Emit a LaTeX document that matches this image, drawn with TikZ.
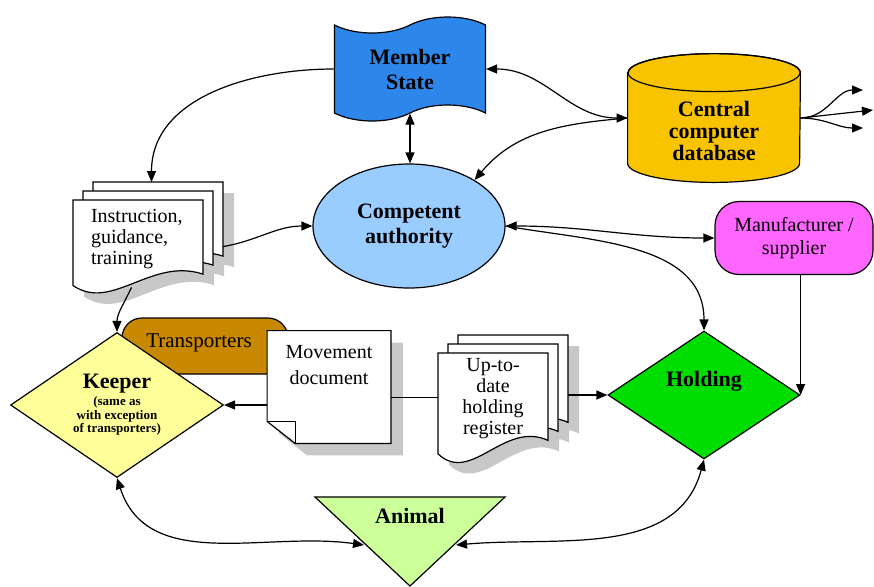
\documentclass[tikz,border=0pt]{standalone}
\usepackage{fontspec}
\setmainfont{Liberation Serif}
\usepackage{tikz}
\usetikzlibrary{arrows.meta}
\usetikzlibrary{positioning, shapes.geometric, shapes.symbols, shapes.misc}
\definecolor{msblue}{RGB}{45,135,235}
\definecolor{dbgold}{RGB}{248,196,0}
\definecolor{cablue}{RGB}{153,204,255}
\definecolor{mfrpink}{RGB}{255,102,255}
\definecolor{holdgreen}{RGB}{0,221,0}
\definecolor{keepyellow}{RGB}{255,255,153}
\definecolor{transbrown}{RGB}{200,136,0}
\definecolor{animalgreen}{RGB}{204,255,153}
\definecolor{shadowgray}{RGB}{200,200,200}
\tikzset{
flow/.style = { -{Triangle[length = 5.5pt, width = 4.5pt]}, line width = 0.6pt },
twoway/.style = { {Triangle[length = 5.5pt, width = 4.5pt]}-{Triangle[length = 5.5pt, width = 4.5pt]}, line width = 0.6pt },
plain text/.style = { font = \fontsize{10}{10.5}\selectfont, inner sep = 0pt },
bold text/.style = { font = \bfseries\fontsize{11}{12.5}\selectfont, align = center, inner sep = 0pt },
box line/.style = { draw = black, line width = 0.6pt },
}
\tikzset{
pics/doc stack/.style n args={4}{
        code = {
        \foreach \s in {20, 10, 0} {
            \path[fill = shadowgray, shift = {({\s+11}, {-0.9*\s+11})}] (0,0) -- (#1,0) -- (#1,{0.78*#2}) .. controls ({0.6*#1},{0.6*#2}) and ({0.3*#1},{1.18*#2}) .. (0,{0.9*#2}) -- cycle;
        }
        \foreach \s in {20, 10, 0} {
            \path[box line, fill = white, shift = {(\s, {-0.9*\s})}] (0,0) -- (#1,0) -- (#1,{0.78*#2}) .. controls ({0.6*#1},{0.6*#2}) and ({0.3*#1},{1.18*#2}) .. (0,{0.9*#2}) -- cycle;
        }
        \node[plain text, #3] (-page) at ({0.5*#1}, {0.41*#2}) {#4};
        \coordinate (-top) at ({0.45*#1+20}, -18);
        \coordinate (-right) at ({#1+20}, {0.68*#2-18});
        \coordinate (-left) at (0, {0.4*#2});
        \coordinate (-bottom) at ({0.45*#1}, {0.92*#2});
        }
    }
}
\begin{document}
\begin{tikzpicture}[x = 0.5pt, y = -0.5pt]
    \useasboundingbox (0,0) rectangle (874,586);
    \node[box line, fill = transbrown, rounded corners = 10pt, minimum width = 83pt, minimum height = 28pt] (trans) at (205,346) {};
    \node[plain text, font = \fontsize{10.5}{11}\selectfont] (transtxt) at (199,343) {Transporters};
    \pic (instr) at (73,200) {doc stack = {130}{95}{text width = 47pt, align = left}{Instruction,\\guidance,\\training}};
    \pic (reg) at (438,353) {doc stack = {110}{112}{text width = 50pt, align = center}{Up-to-\\date\\holding\\register}};
    \node[minimum width = 61.5pt, minimum height = 56pt, inner sep = 0pt] (mov) at (329,387) {};
    \path[fill = shadowgray, transform canvas = {shift = {(6pt, -6pt)}}] (mov.north west) -- (mov.north east) -- (mov.south east) -- ([xshift = 14pt] mov.south west) -- ([yshift = 11pt] mov.south west) -- cycle;
    \path[box line, fill = white] (mov.north west) -- (mov.north east) -- (mov.south east) -- ([xshift = 14pt] mov.south west) -- ([yshift = 11pt] mov.south west) -- cycle;
    \draw[line width = 0.6pt] ([yshift = 11pt] mov.south west) -- ([xshift = 14pt, yshift = 11pt] mov.south west) -- ([xshift = 14pt] mov.south west);
    \node[plain text, font = \fontsize{10}{13}\selectfont, align = center, below = 7pt of mov.north] (movtxt) {Movement\\document};
    \node[box line, diamond, fill = keepyellow, minimum width = 106.5pt, minimum height = 72.5pt, inner sep = 0pt] (keeper) at (117,405) {};
    \node[bold text] (keepertxt) at (117,384) {Keeper};
    \node[font = \bfseries\fontsize{6.5}{6.8}\selectfont, align = center, inner sep = 0pt] (keepernote) at (117,416) {(same as\\with exception\\of transporters)};
    \node[box line, diamond, fill = holdgreen, minimum width = 96pt, minimum height = 64pt, inner sep = 0pt] (hold) at (704,395) {};
    \node[bold text] (holdtxt) at (704,381) {Holding};
    \node[box line, ellipse, fill = cablue, minimum width = 96pt, minimum height = 62pt, bold text] (ca) at (409,226) {Competent\\authority};
    \node[box line, fill = mfrpink, rounded corners = 12pt, minimum width = 79pt, minimum height = 36.5pt, plain text, font = \fontsize{10}{11.5}\selectfont, align = center] (mfr) at (794,238) {Manufacturer /\\supplier};
    \node[box line, tape, fill = msblue, minimum width = 75.5pt, minimum height = 52pt, tape bend height = 8pt, bold text] (ms) at (410,69) {Member\\State};
    \node[minimum width = 86pt, minimum height = 64pt, inner sep = 0pt] (db) at (714,118) {};
    \path[box line, fill = dbgold] ([yshift = -9.5pt] db.north west) -- ([yshift = 9.5pt] db.south west) arc[start angle = 180, end angle = 360, x radius = 43pt, y radius = 9.5pt] -- ([yshift = -9.5pt] db.north east) arc[start angle = 0, end angle = 180, x radius = 43pt, y radius = 9.5pt] -- cycle;
    \draw[box line] ([yshift = -9.5pt] db.north) ellipse [x radius = 43pt, y radius = 9.5pt];
    \node[bold text, font = \bfseries\fontsize{11}{11}\selectfont] (dbtxt) at (714,131) {Central\\computer\\database};
    \path[box line, fill = animalgreen] (315,497) -- (505,497) -- (410,586) -- cycle;
    \node[bold text] (animal) at (410,516) {Animal};
    \coordinate (animal-l) at (364,545);
    \coordinate (animal-r) at (456,545);
    \coordinate (out1) at (863,90);
    \coordinate (out2) at (873,110);
    \coordinate (out3) at (863,128);
    \draw[flow] (ms.west) to[out = 180, in = 90] (instr-top);
    \draw[twoway] (ms.east) to[out = 0, in = 180] (db.west);
    \draw[twoway] (ms.south) -- (ms.south |- ca.north);
    \draw[flow] (db.west) to[out = 185, in = 50] (ca.35);
    \draw[flow] (db.east) to[out = 0, in = 180] (out1);
    \draw[flow] (db.east) -- (out2);
    \draw[flow] (db.east) to[out = 0, in = 180] (out3);
    \draw[flow] (instr-right) to[out = 10, in = 180] (ca.west);
    \draw[flow] (instr-bottom) to[out = -115, in = 90] (keeper.north);
    \draw[twoway] (ca.east) to[out = 0, in = 180] (mfr.west);
    \draw[flow] (ca.east) to[out = -10, in = 90] (hold.north);
    \draw[flow] (mfr.south -| hold.east) -- (hold.east);
    \draw[flow] (mov.west |- keeper.east) -- (keeper.east);
    \draw[line width = 0.6pt] (reg-left) -- (reg-left -| mov.east);
    \draw[flow] (reg-right |- hold.west) -- (hold.west);
    \draw[twoway] (keeper.south) to[out = -72, in = 172] (animal-l);
    \draw[twoway] (hold.south) to[out = -105, in = 5] (animal-r);
\end{tikzpicture}
\end{document}
